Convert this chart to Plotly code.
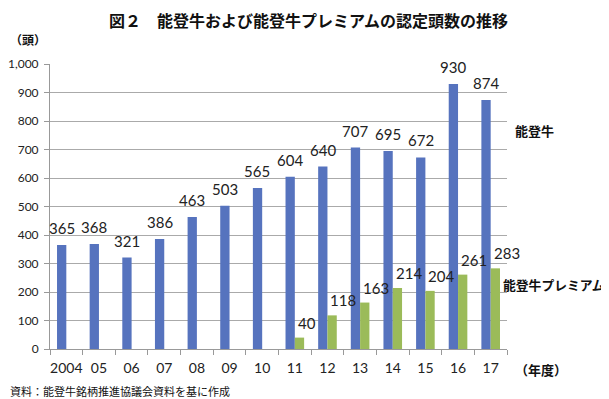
import plotly.graph_objects as go

years = ["2004", "05", "06", "07", "08", "09", "10", "11", "12", "13", "14", "15", "16", "17"]
noto_beef = [365, 368, 321, 386, 463, 503, 565, 604, 640, 707, 695, 672, 930, 874]
premium = [None, None, None, None, None, None, None, 40, 118, 163, 214, 204, 261, 283]

BLUE = "#5673BE"
GREEN = "#9BBB59"
JP = "Noto Sans CJK JP"
NUM = "Lato, Open Sans, sans-serif"

fig = go.Figure()
fig.add_trace(go.Bar(x=years, y=noto_beef, name="能登牛", marker_color=BLUE, marker_line_width=0))
fig.add_trace(go.Bar(x=years, y=premium, name="能登牛プレミアム", marker_color=GREEN, marker_line_width=0))

ann = []
for i, v in enumerate(noto_beef):
    ann.append(dict(x=i, y=v, text=str(v), showarrow=False, xanchor="center", yanchor="bottom",
                    xshift=-4.7, yshift=6, font=dict(family=NUM, size=15, color="#222")))
for i, v in enumerate(premium):
    if v is None:
        continue
    ann.append(dict(x=i, y=v, text=str(v), showarrow=False, xanchor="left", yanchor="bottom",
                    xshift=1, yshift=4, font=dict(family=NUM, size=15, color="#222")))

# series labels at right
ann.append(dict(xref="paper", yref="y", x=1.0, y=768, text="<b>能登牛</b>", showarrow=False,
                xanchor="left", xshift=6, font=dict(family=JP, size=13, color="#111")))
ann.append(dict(xref="paper", yref="y", x=1.0, y=225, text="<b>能登牛プレミアム</b>", showarrow=False,
                xanchor="left", xshift=-6, font=dict(family=JP, size=12.8, color="#111")))
# unit labels
ann.append(dict(xref="paper", yref="paper", x=0, y=1, text="<b>（頭）</b>", showarrow=False,
                xanchor="left", yanchor="middle", xshift=-42, yshift=25,
                font=dict(family=JP, size=12, color="#111")))
ann.append(dict(xref="paper", yref="paper", x=1, y=0, text="<b>（年度）</b>", showarrow=False,
                xanchor="left", yanchor="middle", xshift=6, yshift=-20,
                font=dict(family=JP, size=13, color="#111")))
ann.append(dict(xref="paper", yref="paper", x=0, y=0, text="資料：能登牛銘柄推進協議会資料を基に作成",
                showarrow=False, xanchor="left", yanchor="middle", xshift=-42, yshift=-42,
                font=dict(family=JP, size=11, color="#111")))

fig.update_layout(
    width=601, height=391,
    margin=dict(l=42, r=102, t=56, b=50),
    paper_bgcolor="white", plot_bgcolor="white",
    barmode="group", bargap=0.43, bargroupgap=0,
    showlegend=False,
    title=dict(text="<b>図２　能登牛および能登牛プレミアムの認定頭数の推移</b>", x=0.5, xanchor="center",
               y=0.98, yanchor="top", pad=dict(t=0), font=dict(family=JP, size=16, color="#111")),
    annotations=ann,
    xaxis=dict(type="category", range=[-0.5, len(years) - 0.5], autorange=False,
               tickson="boundaries", ticks="outside", ticklen=5, tickcolor="#999",
               showline=True, linecolor="#999", linewidth=1, showgrid=False, tickangle=0,
               ticklabelstandoff=6, automargin=False,
               tickfont=dict(family=NUM, size=14, color="#222")),
    yaxis=dict(range=[0, 1000], dtick=100, tickformat=",d", ticks="outside", ticklen=5, tickcolor="#999",
               showline=True, linecolor="#999", linewidth=1, showgrid=True, gridcolor="#aaa", gridwidth=1,
               ticklabelstandoff=3, automargin=False,
               zeroline=False, tickfont=dict(family=NUM, size=12, color="#222")),
)

fig.write_html("out.html")
